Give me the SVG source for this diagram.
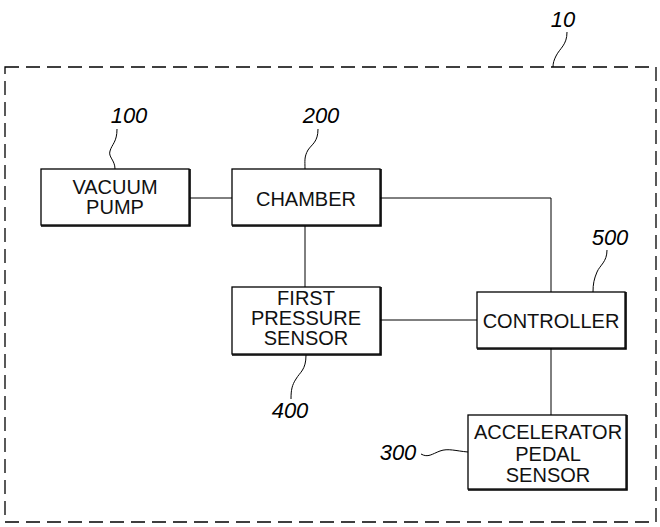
<svg xmlns="http://www.w3.org/2000/svg" width="660" height="527" viewBox="0 0 660 527">
<style>
.box{fill:#fff;stroke:#000;stroke-width:1.3}
.sh{fill:none;stroke:#000;stroke-width:1.6}
.t{font-family:"Liberation Sans",Arial,sans-serif;font-size:20px;fill:#111;text-anchor:middle}
.lbl{font-family:"Liberation Sans",Arial,sans-serif;font-size:22px;font-style:italic;fill:#000;text-anchor:middle}
.ld{fill:none;stroke:#000;stroke-width:1}
.cn{fill:none;stroke:#000;stroke-width:1}
</style>
<rect width="660" height="527" fill="#fff"/>
<g id="system-10">
<rect x="5" y="67" width="651" height="455" fill="none" stroke="#000" stroke-width="1.3" stroke-dasharray="14,7"/>
<text class="lbl" x="563" y="27">10</text>
<path class="ld" d="M567,32 C567,45 560,48 556,56 C554,60 553,63 553,67"/>
</g>
<g id="connectors">
<line class="cn" x1="190" y1="198" x2="232" y2="198"/>
<polyline class="cn" points="380,198 551,198 551,292"/>
<line class="cn" x1="305" y1="226" x2="305" y2="287"/>
<line class="cn" x1="380" y1="320" x2="477" y2="320"/>
<line class="cn" x1="551" y1="348" x2="551" y2="415"/>
</g>
<g id="node-100">
<rect class="box" x="41" y="169" width="148" height="56"/>
<polyline class="sh" points="190,169 190,226 41,226"/>
<text class="t" x="115" y="194">VACUUM</text>
<text class="t" x="115" y="214">PUMP</text>
<text class="lbl" x="129" y="123">100</text>
<path class="ld" d="M117,129 C117,142 112,144 110,151 C108,157 115,160 115,169"/>
</g>
<g id="node-200">
<rect class="box" x="232" y="169" width="148" height="56"/>
<polyline class="sh" points="381,169 381,226 232,226"/>
<text class="t" x="306" y="206">CHAMBER</text>
<text class="lbl" x="321" y="123">200</text>
<path class="ld" d="M318,129 C318,142 312,144 308,150 C304,157 305,161 305,169"/>
</g>
<g id="node-400">
<rect class="box" x="232" y="287" width="148" height="67"/>
<polyline class="sh" points="381,287 381,355 232,355"/>
<text class="t" x="306" y="305">FIRST</text>
<text class="t" x="306" y="325">PRESSURE</text>
<text class="t" x="306" y="345">SENSOR</text>
<text class="lbl" x="290" y="418">400</text>
<path class="ld" d="M306,355 C306,370 300,372 296,379 C292,385 291,390 291,399"/>
</g>
<g id="node-500">
<rect class="box" x="477" y="292" width="148" height="56"/>
<polyline class="sh" points="626,292 626,349 477,349"/>
<text class="t" x="551" y="328">CONTROLLER</text>
<text class="lbl" x="610" y="245">500</text>
<path class="ld" d="M607,250 C607,262 600,265 597,272 C594,279 593,284 593,292"/>
</g>
<g id="node-300">
<rect class="box" x="468" y="415" width="158" height="74"/>
<polyline class="sh" points="627,415 627,490 468,490"/>
<text class="t" x="548" y="439">ACCELERATOR</text>
<text class="t" x="548" y="461">PEDAL</text>
<text class="t" x="548" y="482">SENSOR</text>
<text class="lbl" x="398" y="460">300</text>
<path class="ld" d="M421,454 C428,458 432,454 440,451 C448,448 456,451 468,452"/>
</g>
</svg>
